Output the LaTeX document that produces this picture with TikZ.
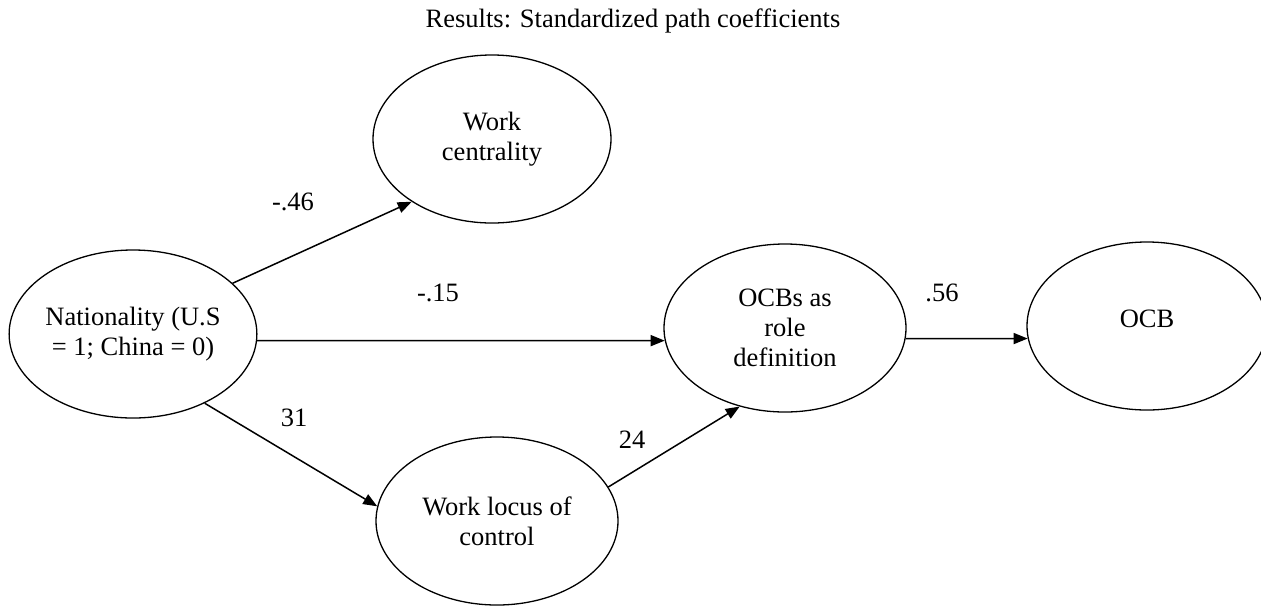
\documentclass[tikz,border=0pt]{standalone}
\usepackage{fontspec}
\setmainfont{Liberation Serif}
\usetikzlibrary{shapes.geometric,arrows.meta}
\begin{document}
\begin{tikzpicture}[x=1pt,y=-1pt,
  var/.style={draw, ellipse, line width=1.3pt, minimum width=242pt, minimum height=168pt,
    inner sep=0pt, align=center, font=\fontsize{26.5}{30}\selectfont},
  pathline/.style={draw, line width=1.5pt, -{Triangle[length=14pt,width=11pt]}},
  coef/.style={font=\fontsize{26.5}{30}\selectfont, inner sep=0pt}]
\useasboundingbox (0,0) rectangle (1261,606);
\node[coef] (title) at (633,21) {Results: Standardized path coefficients};
\node[var] (nat) at (133,334) {Nationality (U.S\\= 1; China = 0)};
\node[var, minimum width=238pt] (wc) at (492,139) {Work\\centrality};
\node[var] (ocbs) at (785,328) {OCBs as\\role\\definition};
\node[var, minimum width=240pt] (ocb) at (1147,326) {\raisebox{14pt}{OCB}};
\node[var] (loc) at (497,521) {Work locus of\\control};
\draw[pathline] (nat.27) -- (wc.218);
\draw[pathline] (nat.-3) -- (ocbs.186);
\draw[pathline] (nat.-44) -- (loc.173);
\draw[pathline] (loc.17) -- (ocbs.240);
\draw[pathline] (ocbs.-5) -- (ocb.186);
\node[coef] (c46) at (293,202) {-.46};
\node[coef] (c15) at (438,293) {-.15};
\node[coef] (c31) at (294,418) {31};
\node[coef] (c24) at (632,440) {24};
\node[coef] (c56) at (942,293) {.56};
\end{tikzpicture}
\end{document}
